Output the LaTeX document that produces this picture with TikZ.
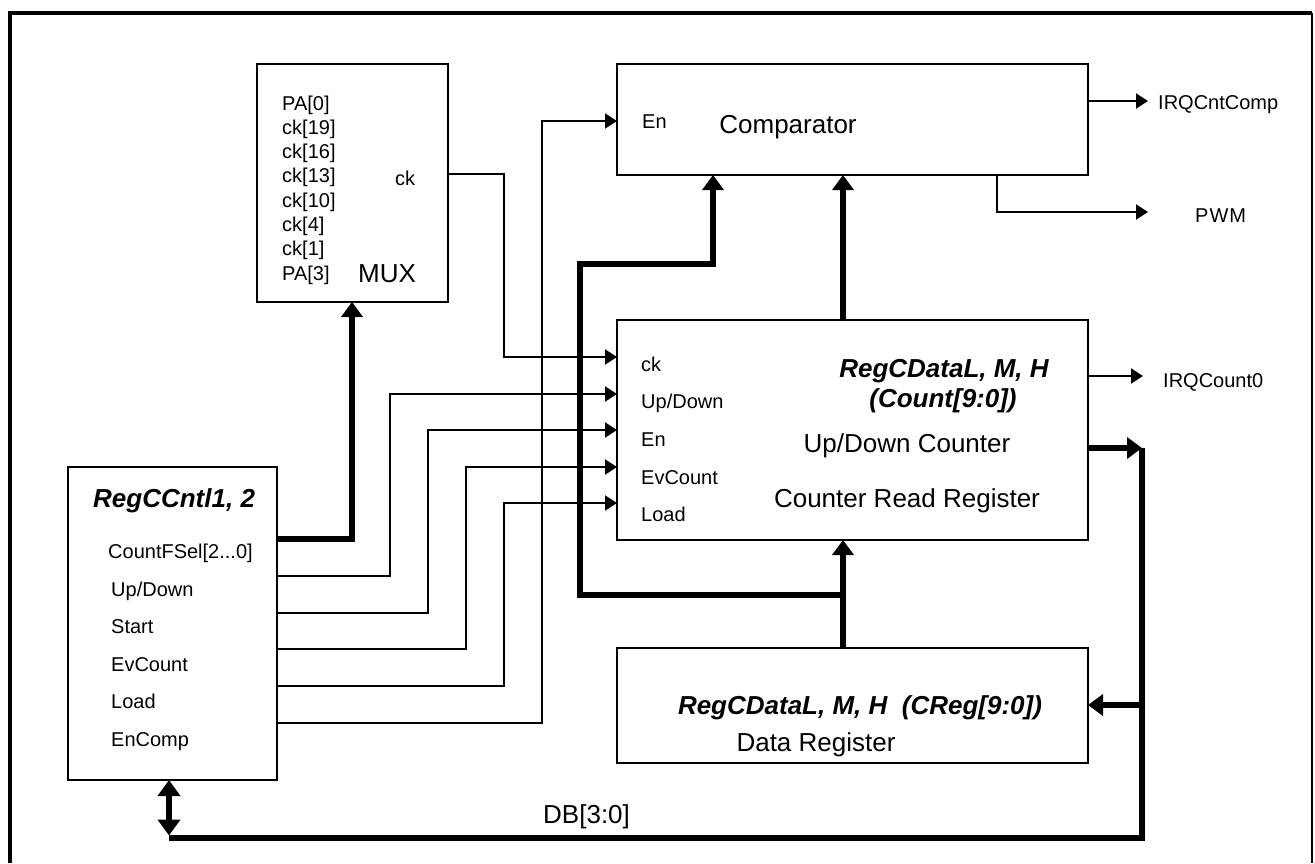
\documentclass[tikz,border=0pt]{standalone}
\usepackage{fontspec}
\setmainfont{Liberation Sans}
\usetikzlibrary{arrows.meta}
\begin{document}
\begin{tikzpicture}[x=1pt,y=-1pt,
  box/.style={draw,line width=2pt,inner sep=0pt,outer sep=0pt},
  wire/.style={line width=2pt},
  sig/.style={line width=2pt,-{Triangle[length=12pt,width=15pt]}},
  busline/.style={line width=5.5pt},
  bus/.style={line width=5.5pt,-{Triangle[length=15pt,width=21pt]}},
  dbl/.style={line width=5.5pt,{Triangle[length=16pt,width=22pt]}-{Triangle[length=16pt,width=22pt]}},
  lbl/.style={font=\fontsize{20}{24}\selectfont,inner sep=0pt,anchor=base west},
  big/.style={font=\fontsize{26}{30}\selectfont,inner sep=0pt,anchor=base},
  bigw/.style={font=\fontsize{26}{30}\selectfont,inner sep=0pt,anchor=base west},
  bi/.style={font=\fontsize{26}{30}\selectfont\bfseries\itshape,inner sep=0pt,anchor=base}]
\useasboundingbox (0,0) rectangle (1315,863);
% outer frame
\draw[line width=4pt] (10,863) -- (10,12.5) -- (1312,12.5);
\draw[line width=2pt] (1312,12.5) -- (1312,863);
% boxes
\node[box,minimum width=191pt,minimum height=238pt] (mux) at (352.5,183) {};
\node[box,minimum width=471pt,minimum height=111pt] (cmp) at (852.5,119.5) {};
\node[box,minimum width=471pt,minimum height=220pt] (cnt) at (852.5,430) {};
\node[box,minimum width=471pt,minimum height=115pt] (dreg) at (852.5,705.5) {};
\node[box,minimum width=209pt,minimum height=313pt] (lb) at (172.5,623.5) {};
% MUX texts
\foreach \t [count=\i from 0] in {{PA[0]},{ck[19]},{ck[16]},{ck[13]},{ck[10]},{ck[4]},{ck[1]},{PA[3]}}
  \node[lbl] (muxin\i) at (282,{110+24.3*\i}) {\t};
\node[lbl] (muxck) at (395,185) {ck};
\node[bigw] (muxlbl) at (358,282) {MUX};
% comparator texts
\node[lbl] (cmpEnL) at (642,128) {En};
\node[big] (cmpL) at (788,133) {Comparator};
\node[lbl] (irqCC) at (1158,109) {IRQCntComp};
\node[lbl] (pwmL) at (1195,222) {P\kern1ptW\kern1ptM};
% counter texts
\node[lbl] (cntCk) at (641,371) {ck};
\node[lbl] (cntUD) at (641,408) {Up/Down};
\node[lbl] (cntEn) at (641,446) {En};
\node[lbl] (cntEv) at (641,484) {EvCount};
\node[lbl] (cntLd) at (641,521) {Load};
\node[bi] (cntT1) at (944,377) {RegCDataL, M, H};
\node[bi] (cntT2) at (943,407) {(Count[9:0])};
\node[big] (cntUDC) at (907,452) {Up/Down Counter};
\node[big] (cntCRR) at (907,507) {Counter Read Register};
\node[lbl] (irqC0) at (1163,387) {IRQCount0};
% data register texts
\node[bi] (dregT1) at (860,714) {RegCDataL, M, H~~(CReg[9:0])};
\node[big] (dregT2) at (816,751) {Data Register};
% left box texts
\node[bi,anchor=base west] (lbT) at (93,507) {RegCCntl1, 2};
\node[lbl] (lbF) at (108,558) {CountFSel[2...0]};
\node[lbl] (lbU) at (111,596) {Up/Down};
\node[lbl] (lbS) at (111,633) {Start};
\node[lbl] (lbE) at (111,671) {EvCount};
\node[lbl] (lbL) at (111,708) {Load};
\node[lbl] (lbC) at (111,746) {EnComp};
\node[bigw] (dbL) at (543,823) {DB[3:0]};
% pins
\coordinate (pF) at (277,539);
\coordinate (pU) at (277,576);
\coordinate (pS) at (277,613);
\coordinate (pE) at (277,649);
\coordinate (pL) at (277,686);
\coordinate (pC) at (277,723);
\coordinate (muxB) at (352,302);
\coordinate (muxO) at (448,174);
\coordinate (cCk) at (617,357);
\coordinate (cUD) at (617,394);
\coordinate (cEn) at (617,430);
\coordinate (cEv) at (617,467);
\coordinate (cLd) at (617,503);
\coordinate (cmpEn) at (617,121);
\coordinate (cmpB1) at (713,175);
\coordinate (cmpB2) at (843,175);
\coordinate (cntT) at (843,320);
\coordinate (cntB) at (843,540);
\coordinate (dregT) at (843,648);
\coordinate (busJ) at (843,595);
\coordinate (cmpR) at (1088,101);
\coordinate (irq1) at (1148,101);
\coordinate (cmpP) at (997,175);
\coordinate (pwmE) at (1148,212);
\coordinate (cntR1) at (1088,376);
\coordinate (irq2) at (1143,376);
\coordinate (cntR2) at (1088,448);
\coordinate (busR) at (1142,448);
\coordinate (busD) at (1142,705);
\coordinate (dregR) at (1088,705);
\coordinate (busL) at (169,838);
\coordinate (lbB) at (169,780);
\coordinate (busLT) at (169,835.5);
% control signals
\draw[bus] (pF) -| (muxB);
\draw[sig] (muxO) -- ++(56,0) |- (cCk);
\draw[sig] (pU) -- ++(113,0) |- (cUD);
\draw[sig] (pS) -- ++(151,0) |- (cEn);
\draw[sig] (pE) -- ++(189,0) |- (cEv);
\draw[sig] (pL) -- ++(227,0) |- (cLd);
\draw[sig] (pC) -- ++(265,0) |- (cmpEn);
% data buses
\draw[bus] (dregT) -- (cntB);
\draw[bus] (busJ) -- ++(-263,0) -- ++(0,-331) -| (cmpB1);
\draw[bus] (cntT) -- (cmpB2);
\draw[sig] (cmpR) -- (irq1);
\draw[sig] (cmpP) |- (pwmE);
\draw[sig] (cntR1) -- (irq2);
\draw[bus] (cntR2) -- (busR);
\draw[busline] (busR) |- (busL);
\draw[bus] (busD) -- (dregR);
\draw[dbl] (lbB) -- (busLT);
\end{tikzpicture}
\end{document}
